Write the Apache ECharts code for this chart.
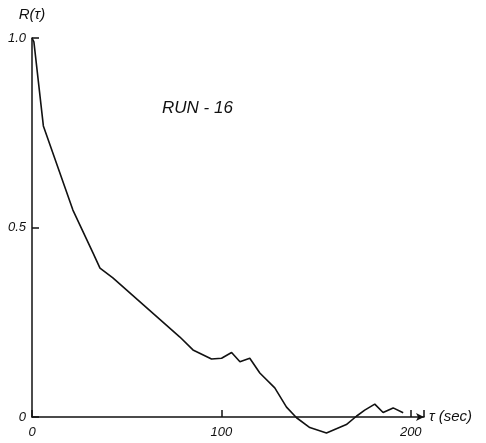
<!DOCTYPE html>
<html>
<head>
<meta charset="utf-8">
<script src="https://cdn.jsdelivr.net/npm/echarts@6/dist/echarts.min.js"></script>
<style>
  html, body { margin: 0; padding: 0; background: #fff; }
  #main { width: 486px; height: 443px; }
</style>
</head>
<body>
<div id="main"></div>
<script>
// lag tau (sec) and autocorrelation R(tau)
var tau = [0, 1, 6, 21.6, 32.2, 35.9, 42.7, 78.1, 85, 94.8, 100.1, 105.4, 109.8, 115, 120.3, 128.2, 134.4, 139.7, 146.7, 155.5, 166, 171.3, 175.7, 181, 185.4, 190.7, 196];
var rVals = [1.0, 0.99, 0.768, 0.546, 0.433, 0.393, 0.367, 0.211, 0.177, 0.153, 0.155, 0.170, 0.146, 0.155, 0.116, 0.077, 0.026, -0.002, -0.028, -0.042, -0.020, 0.002, 0.018, 0.034, 0.012, 0.024, 0.011];
var yTicks = [0, 0.5, 1.0];
var xTicks = [0, 100, 200];

var points = tau.map(function (t, i) { return [t, rVals[i]]; });

var myChart = echarts.init(document.getElementById('main'));
var fontFam = 'Liberation Sans, Arial, sans-serif';
option = {
    backgroundColor: '#fff',
    animation: false,
    grid: {
        left: 32,
        top: 38,
        width: 392,
        height: 379
    },
    title: {
        text: 'RUN - 16',
        left: 157,
        top: 95,
        textStyle: {
            fontFamily: fontFam,
            fontStyle: 'italic',
            fontWeight: 'normal',
            fontSize: 17,
            color: '#111'
        }
    },
    xAxis: {
        type: 'value',
        min: 0,
        max: 207,
        interval: 100,
        name: 'τ (sec)',
        nameLocation: 'end',
        nameGap: 5,
        nameTextStyle: {
            fontFamily: fontFam,
            fontStyle: 'italic',
            fontSize: 15,
            color: '#111'
        },
        axisLine: {
            show: true,
            symbol: ['none', 'arrow'],
            symbolSize: [6, 8],
            lineStyle: { color: '#111', width: 1.5 }
        },
        axisTick: {
            show: true,
            inside: true,
            length: 7,
            lineStyle: { color: '#111', width: 1.5 }
        },
        axisLabel: {
            fontFamily: fontFam,
            fontStyle: 'italic',
            fontSize: 13,
            color: '#111',
            margin: 9,
            formatter: function (v) {
                return xTicks.indexOf(v) >= 0 ? String(v) : '';
            }
        },
        splitLine: { show: false }
    },
    yAxis: {
        type: 'value',
        min: 0,
        max: 1,
        interval: 0.5,
        name: 'R(τ)',
        nameLocation: 'end',
        nameGap: 16,
        nameTextStyle: {
            fontFamily: fontFam,
            fontStyle: 'italic',
            fontSize: 15,
            color: '#111'
        },
        axisLine: {
            show: true,
            lineStyle: { color: '#111', width: 1.5 }
        },
        axisTick: {
            show: true,
            inside: true,
            length: 7,
            lineStyle: { color: '#111', width: 1.5 }
        },
        axisLabel: {
            fontFamily: fontFam,
            fontStyle: 'italic',
            fontSize: 13,
            color: '#111',
            margin: 6,
            formatter: function (v) {
                if (yTicks.indexOf(v) < 0) return '';
                return v === 0 ? '0' : v.toFixed(1);
            }
        },
        splitLine: { show: false }
    },
    series: [{
        type: 'line',
        data: points,
        showSymbol: false,
        clip: false,
        smooth: false,
        lineStyle: { color: '#111', width: 1.6 }
    }]
};
myChart.setOption(option, true);
</script>
</body>
</html>
